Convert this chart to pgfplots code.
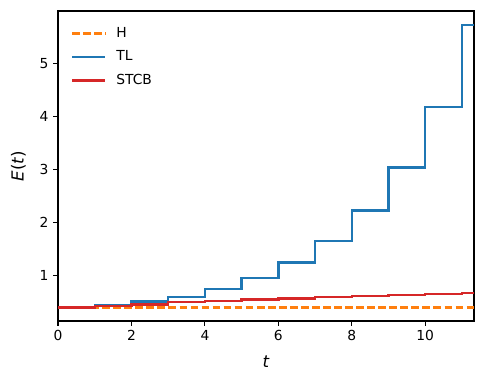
\documentclass[border=0pt]{standalone}
\usepackage{fontspec}
\setmainfont{DejaVu Sans}
\usepackage{pgfplots}
\pgfplotsset{compat=1.18}
\definecolor{mplorange}{RGB}{255,127,14}
\definecolor{mplblue}{RGB}{31,119,180}
\definecolor{mplred}{RGB}{214,39,40}
\begin{document}
\begin{tikzpicture}
\begin{axis}[
  name=ax,
  scale only axis,
  width=299.5bp, height=223.2bp,
  xmin=0, xmax=11.33, ymin=0.15, ymax=5.98,
  xtick={0,2,4,6,8,10}, ytick={1,2,3,4,5},
  tick align=outside, tick pos=left,
  major tick length=3.5bp,
  every tick/.style={black, line width=0.8bp},
  axis line style={line width=0.8bp},
  tick label style={font=\fontsize{10}{12}\selectfont},
  /pgf/number format/assume math mode=true,
  xlabel={\textit{t}}, ylabel={\textit{E}(\textit{t})},
  label style={font=\fontsize{12}{14}\selectfont},
  xlabel style={yshift=-4bp},
  ylabel style={yshift=3bp},
  legend style={at={(axis description cs:0.02,0.965)}, anchor=north west, draw=none, fill=none,
    font=\fontsize{10}{12}\selectfont, row sep=4bp,
    nodes={inner xsep=7bp}},
  legend cell align=left,
  legend image code/.code={\draw[#1] (0bp,0bp) -- (24bp,0bp);},
]
\addplot[mplorange, line width=1.8bp, dash pattern=on 5.55bp off 2.4bp] coordinates {(0,0.4) (11.33,0.4)};
\addlegendentry{H}
\addplot[mplblue, line width=1.8bp, const plot] coordinates {
(0,0.4) (1,0.45) (2,0.52) (3,0.6) (4,0.75) (5,0.96) (6,1.245) (7,1.65) (8,2.23) (9,3.04) (10,4.17) (11,5.72) (11.33,5.72)};
\addlegendentry{TL}
\addplot[mplred, line width=1.8bp, const plot] coordinates {
(0,0.4) (1,0.43) (2,0.46) (3,0.505) (4,0.524) (5,0.55) (6,0.575) (7,0.6) (8,0.62) (9,0.64) (10,0.66) (11,0.68) (11.33,0.68)};
\addlegendentry{STCB}
\end{axis}
\path (ax.south west) ++(-41.8bp,-45.4bp) coordinate (bl);
\path (ax.north east) ++(7.9bp,7.9bp) coordinate (tr);
\path (bl) rectangle (tr);
\end{tikzpicture}
\end{document}
